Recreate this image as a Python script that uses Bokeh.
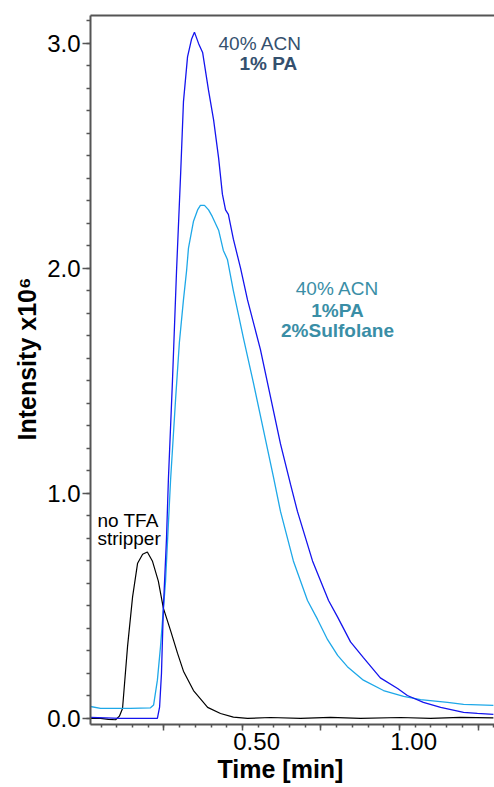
from bokeh.plotting import figure
from bokeh.models import Range1d, LinearAxis, SingleIntervalTicker, FixedTicker, Title
from bokeh.core.properties import value
from bokeh.embed import file_html
from bokeh.resources import INLINE

# ---- data (time in min, intensity in 1e6 counts) ----
time_pa = [0.016, 0.111, 0.207, 0.229, 0.236, 0.242, 0.248, 0.258, 0.264, 0.277,
           0.290, 0.303, 0.312, 0.325, 0.338, 0.347, 0.360, 0.373, 0.392, 0.408,
           0.424, 0.436, 0.446, 0.455, 0.471, 0.494, 0.516, 0.557, 0.589, 0.621,
           0.653, 0.675, 0.723, 0.774, 0.803, 0.844, 0.885, 0.939, 0.994, 1.025,
           1.076, 1.131, 1.204, 1.248, 1.299]
int_pa = [0.005, 0.0, 0.0, 0.0, 0.05, 0.20, 0.49, 0.80, 1.06, 1.50,
          1.99, 2.42, 2.74, 2.94, 3.02, 3.05, 3.00, 2.96, 2.79, 2.66,
          2.49, 2.33, 2.26, 2.24, 2.13, 2.00, 1.86, 1.64, 1.43, 1.22,
          1.04, 0.92, 0.70, 0.524, 0.45, 0.34, 0.27, 0.18, 0.133, 0.102,
          0.071, 0.049, 0.027, 0.022, 0.018]

time_sulf = [0.016, 0.048, 0.143, 0.207, 0.217, 0.229, 0.239, 0.255, 0.271, 0.287,
             0.299, 0.312, 0.322, 0.328, 0.344, 0.357, 0.366, 0.379, 0.392, 0.404,
             0.424, 0.439, 0.452, 0.471, 0.503, 0.535, 0.567, 0.599, 0.621, 0.662,
             0.707, 0.739, 0.771, 0.803, 0.834, 0.885, 0.949, 1.013, 1.067, 1.153,
             1.204, 1.299]
int_sulf = [0.053, 0.045, 0.045, 0.047, 0.06, 0.17, 0.32, 0.61, 1.06, 1.42,
            1.67, 1.86, 1.99, 2.09, 2.21, 2.26, 2.28, 2.28, 2.26, 2.23,
            2.17, 2.08, 2.04, 1.90, 1.69, 1.49, 1.28, 1.07, 0.92, 0.70,
            0.524, 0.44, 0.35, 0.28, 0.23, 0.17, 0.124, 0.098, 0.084, 0.071,
            0.062, 0.058]

time_notfa = [0.016, 0.048, 0.073, 0.096, 0.108, 0.118, 0.134, 0.150, 0.166, 0.182,
              0.197, 0.213, 0.232, 0.248, 0.271, 0.293, 0.312, 0.344, 0.389, 0.430,
              0.471, 0.516, 0.589, 0.685, 0.780, 0.876, 1.003, 1.099, 1.194, 1.299]
int_notfa = [0.0, 0.0, -0.004, -0.006, 0.01, 0.044, 0.32, 0.54, 0.69, 0.73,
             0.74, 0.70, 0.61, 0.49, 0.39, 0.29, 0.21, 0.124, 0.049, 0.022,
             0.006, 0.0, 0.004, 0.0, 0.005, 0.0, 0.004, 0.0, 0.005, 0.002]

x_tick_values = [0.5, 1.0]
x_tick_labels = ["0.50", "1.00"]
y_tick_values = [0, 1, 2, 3]
y_tick_labels = ["0.0", "1.0", "2.0", "3.0"]
x_title = "Time [min]"
y_title = "Intensity x10\u2076"

label_pa = ["40% ACN", "1% PA"]
label_sulf = ["40% ACN", "1%PA", "2%Sulfolane"]
label_notfa = ["no TFA", "stripper"]

FONT = "Liberation Sans"
AXIS_COLOR = "#555555"
C_PA = "#1414ee"
C_SULF = "#1ea8e8"
C_NOTFA = "#000000"
T_PA = "#34506e"
T_SULF = "#3a8ea6"

X0, X1 = 0.016, 1.3025
LAB_SHIFT = 0.045

p = figure(width=494, height=787, output_backend="svg", toolbar_location=None,
           x_range=Range1d(X0, X1), y_range=Range1d(-0.027, 3.124),
           min_border_left=90, min_border_right=0, min_border_top=15,
           min_border_bottom=63)
p.outline_line_color = None
p.grid.visible = False
p.background_fill_color = "white"
p.border_fill_color = "white"

# bottom tick axis (ticks only)
xa = p.xaxis[0]
xa.ticker = SingleIntervalTicker(interval=0.25, num_minor_ticks=5)
xa.major_label_overrides = {k * 0.25: "" for k in range(7)}
xa.major_label_text_font_size = "1px"
xa.major_label_standoff = 0
xa.axis_line_color = AXIS_COLOR
xa.axis_line_width = 2
xa.major_tick_line_color = AXIS_COLOR
xa.minor_tick_line_color = AXIS_COLOR
xa.major_tick_line_width = 1.5
xa.minor_tick_line_width = 1.5
xa.major_tick_in = 0
xa.major_tick_out = 6
xa.minor_tick_in = 0
xa.minor_tick_out = 3

# bottom label axis
p.extra_x_ranges = {"lab": Range1d(X0 - LAB_SHIFT, X1 - LAB_SHIFT)}
la = LinearAxis(x_range_name="lab", ticker=FixedTicker(ticks=x_tick_values))
la.major_label_overrides = {v: s for v, s in zip(x_tick_values, x_tick_labels)}
la.axis_line_color = None
la.major_tick_line_color = None
la.minor_tick_line_color = None
la.major_tick_out = 0
la.minor_tick_out = 0
la.major_tick_in = 0
la.minor_tick_in = 0
la.major_label_text_font = FONT
la.major_label_text_font_size = "24px"
la.major_label_text_color = "black"
la.major_label_standoff = 2
p.add_layout(la, "below")

xt = Title(text=x_title, align="left", offset=127, standoff=0,
           text_font=FONT, text_font_size="25px", text_font_style="bold",
           text_color="black")
p.add_layout(xt, "below")

# left axis
ya = p.yaxis[0]
ya.ticker = SingleIntervalTicker(interval=1, num_minor_ticks=10)
ya.major_label_overrides = {v: s for v, s in zip(y_tick_values, y_tick_labels)}
ya.axis_line_color = AXIS_COLOR
ya.axis_line_width = 2
ya.major_tick_line_color = AXIS_COLOR
ya.minor_tick_line_color = AXIS_COLOR
ya.major_tick_line_width = 1.5
ya.minor_tick_line_width = 1.5
ya.major_tick_in = 0
ya.major_tick_out = 8
ya.minor_tick_in = 0
ya.minor_tick_out = 4
ya.major_label_text_font = FONT
ya.major_label_text_font_size = "24px"
ya.major_label_text_color = "black"
ya.major_label_standoff = 2

yt = Title(text=y_title, align="left", offset=284, standoff=8,
           text_font=FONT, text_font_size="25px", text_font_style="bold",
           text_color="black")
p.add_layout(yt, "left")

# top frame line
ta = LinearAxis(ticker=FixedTicker(ticks=[]))
ta.axis_line_color = AXIS_COLOR
ta.axis_line_width = 2
ta.major_tick_line_color = None
ta.minor_tick_line_color = None
ta.major_tick_out = 0
ta.minor_tick_out = 0
ta.major_label_text_font_size = "1px"
ta.major_label_standoff = 0
p.add_layout(ta, "above")

# curves
p.line(time_notfa, int_notfa, line_color=C_NOTFA, line_width=1.2)
p.line(time_sulf, int_sulf, line_color=C_SULF, line_width=1.3)
p.line(time_pa, int_pa, line_color=C_PA, line_width=1.3)

# annotations
p.text(x=[0.4236], y=[2.998], text=[label_pa[0]], text_font=value(FONT),
       text_font_size="19px", text_color=T_PA, text_baseline="alphabetic", text_align="left")
p.text(x=[0.4904], y=[2.909], text=[label_pa[1]], text_font=value(FONT),
       text_font_size="19px", text_font_style="bold", text_color=T_PA,
       text_baseline="alphabetic", text_align="left")

p.text(x=[0.8025], y=[1.911], text=[label_sulf[0]], text_font=value(FONT),
       text_font_size="19px", text_color=T_SULF, text_baseline="alphabetic", text_align="center")
p.text(x=[0.8025, 0.8025], y=[1.813, 1.724], text=label_sulf[1:], text_font=value(FONT),
       text_font_size="19px", text_font_style="bold", text_color=T_SULF,
       text_baseline="alphabetic", text_align="center")

p.text(x=[0.038, 0.038], y=[0.878, 0.798], text=label_notfa, text_font=value(FONT),
       text_font_size="19px", text_color="black", text_baseline="alphabetic", text_align="left")

open("out.html", "w").write(file_html(p, INLINE))
